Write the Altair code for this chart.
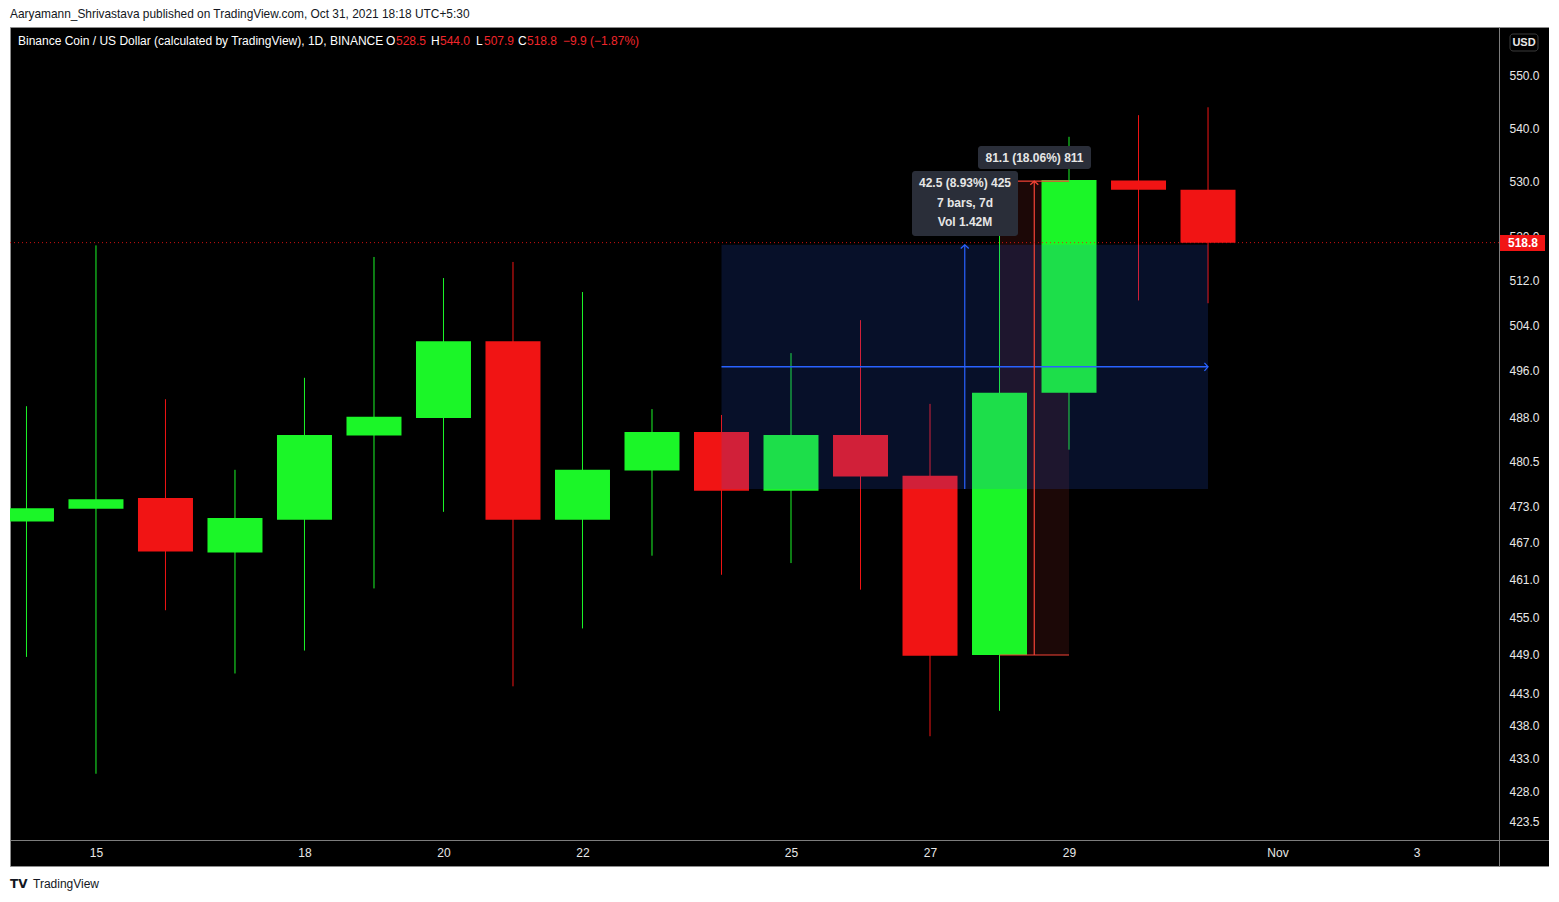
import altair as alt
import pandas as pd

# ---------------- data ----------------
days = [14, 15, 16, 17, 18, 19, 20, 21, 22, 23, 24, 25, 26, 27, 28, 29, 30, 31]
opens = [470.5, 472.6, 474.4, 465.4, 470.8, 484.9, 487.9, 501.2, 470.8, 479.0,
         485.5, 475.6, 485.0, 478.1, 449.0, 492.2, 530.2, 528.5]
highs = [489.9, 518.3, 491.1, 479.1, 494.8, 516.2, 512.4, 515.3, 509.9, 489.4,
         488.4, 499.1, 504.9, 490.3, 521.5, 538.4, 542.5, 544.0]
lows = [448.7, 430.7, 456.1, 446.1, 449.7, 459.6, 472.1, 444.1, 453.2, 464.9,
        461.8, 463.7, 459.4, 436.4, 440.3, 482.5, 508.4, 507.9]
closes = [472.7, 474.2, 465.6, 471.1, 485.0, 488.1, 501.2, 470.8, 479.1, 485.5,
          475.6, 485.0, 478.0, 448.9, 492.2, 530.3, 528.5, 518.8]

x_tick_days = [15, 18, 20, 22, 25, 27, 29, 32, 34]
x_tick_labels = ["15", "18", "20", "22", "25", "27", "29", "Nov", "3"]
y_tick_values = [550.0, 540.0, 530.0, 520.0, 512.0, 504.0, 496.0, 488.0, 480.5,
                 473.0, 467.0, 461.0, 455.0, 449.0, 443.0, 438.0, 433.0, 428.0, 423.5]

# date/price range measurement (blue)
blue_days = [24, 31]
blue_prices = [475.9, 518.4]
blue_mid_price = [496.7]
blue_mid_day = [27.5]
# price range measurement (red)
red_days = [28, 29]
red_prices = [449.0, 530.1]
red_mid_day = [28.5]

last_price = [518.8]

GREEN = "#1bf628"
RED = "#f11414"
BLUE = "#2962ff"
MRED = "#f44336"
FONT = "Liberation Sans"

# ---------------- frames ----------------
candles = pd.DataFrame({"day": days, "open": opens, "high": highs, "low": lows, "close": closes})
candles["dir"] = ["up" if c >= o else "down" for o, c in zip(opens, closes)]

blue_rect_df = pd.DataFrame({"x": [blue_days[0]], "x2": [blue_days[1]],
                             "y": [blue_prices[0]], "y2": [blue_prices[1]]})
blue_h_df = pd.DataFrame({"x": [blue_days[0]], "x2": [blue_days[1]], "y": blue_mid_price})
blue_v_df = pd.DataFrame({"x": blue_mid_day, "y": [blue_prices[0]], "y2": [blue_prices[1]]})
red_rect_df = pd.DataFrame({"x": [red_days[0]], "x2": [red_days[1]],
                            "y": [red_prices[0]], "y2": [red_prices[1]]})
red_h_df = pd.DataFrame({"x": [red_days[0]] * 2, "x2": [red_days[1]] * 2, "y": red_prices})
red_v_df = pd.DataFrame({"x": red_mid_day, "y": [red_prices[0]], "y2": [red_prices[1]]})
blue_up_df = pd.DataFrame({"x": blue_mid_day, "y": [blue_prices[1]]})
red_up_df = pd.DataFrame({"x": red_mid_day, "y": [red_prices[1]]})
arrow_right_df = pd.DataFrame({"x": [blue_days[1]], "y": blue_mid_price})
last_df = pd.DataFrame({"y": last_price, "t": [f"{last_price[0]:.1f}"]})

# ---------------- scales / axes ----------------
xscale = alt.Scale(domain=[13.763, 35.906], nice=False, zero=False, padding=0)
yscale = alt.Scale(type="log", domain=[417.0, 559.52], nice=False, zero=False, padding=0)

label_expr = ""
for d, l in zip(x_tick_days, x_tick_labels):
    label_expr += f"datum.value == {d} ? '{l}' : "
label_expr += "''"

xaxis = alt.Axis(values=x_tick_days, labelExpr=label_expr, orient="bottom", offset=-26,
                 domainColor="#7d7d7d", domainWidth=1, ticks=False, tickSize=0,
                 labelColor="#e8e8e8", labelFontSize=12, labelFont=FONT, labelPadding=7,
                 grid=False, title=None, labelFlush=False, labelOverlap=False)
yaxis = alt.Axis(values=y_tick_values, format=".1f", orient="right", offset=-50,
                 domainColor="#7d7d7d", domainWidth=1, ticks=False, tickSize=0,
                 labelColor="#e8e8e8", labelFontSize=12, labelFont=FONT, labelPadding=10,
                 labelAlign="left", grid=False, title=None, labelFlush=False,
                 labelOverlap=False)

X = lambda f: alt.X(f, scale=xscale, axis=xaxis)
Y = lambda f: alt.Y(f, scale=yscale, axis=yaxis)

# ---------------- layers ----------------
red_rect = alt.Chart(red_rect_df).mark_rect(color="#1c0807").encode(
    x=X("x:Q"), x2="x2:Q", y=Y("y:Q"), y2="y2:Q")

color_enc = alt.Color("dir:N", scale=alt.Scale(domain=["up", "down"], range=[GREEN, RED]),
                      legend=None)

wicks = alt.Chart(candles).mark_rule(strokeWidth=1, clip=True).encode(
    x=X("day:Q"), y=Y("low:Q"), y2="high:Q", color=color_enc)

bodies = alt.Chart(candles).mark_bar(size=55, clip=True).encode(
    x=X("day:Q"), y=Y("open:Q"), y2="close:Q", color=color_enc)

blue_rect = alt.Chart(blue_rect_df).mark_rect(color=BLUE, opacity=0.16).encode(
    x=X("x:Q"), x2="x2:Q", y=Y("y:Q"), y2="y2:Q")

blue_h = alt.Chart(blue_h_df).mark_rule(color=BLUE, strokeWidth=1.5).encode(
    x=X("x:Q"), x2="x2:Q", y=Y("y:Q"))
blue_v = alt.Chart(blue_v_df).mark_rule(color=BLUE, strokeWidth=1.2).encode(
    x=X("x:Q"), y=Y("y:Q"), y2="y2:Q")

red_h = alt.Chart(red_h_df).mark_rule(color=MRED, strokeWidth=1.2).encode(
    x=X("x:Q"), x2="x2:Q", y=Y("y:Q"))
red_v = alt.Chart(red_v_df).mark_rule(color=MRED, strokeWidth=1.2).encode(
    x=X("x:Q"), y=Y("y:Q"), y2="y2:Q")

UP_SHAPE = "M-1,0.9L0,0L1,0.9"
blue_up = alt.Chart(blue_up_df).mark_point(
    shape=UP_SHAPE, size=64, filled=False, strokeWidth=1.3, opacity=1, color=BLUE).encode(
    x=X("x:Q"), y=Y("y:Q"))
red_up = alt.Chart(red_up_df).mark_point(
    shape=UP_SHAPE, size=64, filled=False, strokeWidth=1.3, opacity=1, color=MRED).encode(
    x=X("x:Q"), y=Y("y:Q"))
arrow_right = alt.Chart(arrow_right_df).mark_point(
    shape="M-0.9,-1L0,0L-0.9,1", size=64, filled=False, strokeWidth=1.3, opacity=1,
    color=BLUE).encode(x=X("x:Q"), y=Y("y:Q"))

last_rule = alt.Chart(last_df).mark_rule(color=RED, strokeWidth=1, strokeDash=[1, 3],
                                         opacity=0.85).encode(
    y=Y("y:Q"), x=alt.value(0), x2=alt.value(1489))

last_box = alt.Chart(last_df).mark_rect(color=RED).encode(
    x=alt.value(1490), x2=alt.value(1535), y=alt.value(208), y2=alt.value(224))
last_text = alt.Chart(last_df).mark_text(
    color="white", font=FONT, fontSize=12, fontWeight="bold", align="center",
    baseline="middle").encode(x=alt.value(1513), y=Y("y:Q"), text="t:N")

# measurement label boxes
BOX = "#2a2e39"
box1 = alt.Chart(last_df).mark_rect(color=BOX, cornerRadius=3).encode(
    x=alt.value(968), x2=alt.value(1081), y=alt.value(119), y2=alt.value(142))
box1_text = alt.Chart(last_df).mark_text(
    text="81.1 (18.06%) 811", color="#e6e6e6", font=FONT, fontSize=12, fontWeight="bold",
    align="center", baseline="middle").encode(x=alt.value(1024.5), y=alt.value(130.5))
box2 = alt.Chart(last_df).mark_rect(color=BOX, cornerRadius=3).encode(
    x=alt.value(902), x2=alt.value(1008), y=alt.value(144), y2=alt.value(209))
box2_lines = [("42.5 (8.93%) 425", 156), ("7 bars, 7d", 176), ("Vol 1.42M", 195)]
box2_texts = [
    alt.Chart(last_df).mark_text(
        text=t, color="#e6e6e6", font=FONT, fontSize=12, fontWeight="bold",
        align="center", baseline="middle").encode(x=alt.value(955), y=alt.value(yy))
    for t, yy in box2_lines
]

# USD badge
usd_box = alt.Chart(last_df).mark_rect(fill="#000000", stroke="#3a3a3a", strokeWidth=1,
                                       cornerRadius=3).encode(
    x=alt.value(1500), x2=alt.value(1528), y=alt.value(7), y2=alt.value(24))
usd_text = alt.Chart(last_df).mark_text(
    text="USD", color="#e8e8e8", font=FONT, fontSize=11, fontWeight="bold",
    align="center", baseline="middle").encode(x=alt.value(1514), y=alt.value(15.5))

# header legend
WHITE = "#ffffff"
HRED = "#f0262b"
header_parts = [
    ("Binance Coin / US Dollar (calculated by TradingView), 1D, BINANCE", 8, WHITE),
    ("O", 376, WHITE), ("528.5", 386, HRED),
    ("H", 421, WHITE), ("544.0", 430, HRED),
    ("L", 466, WHITE), ("507.9", 474, HRED),
    ("C", 508, WHITE), ("518.8", 517, HRED),
    ("\u22129.9 (\u22121.87%)", 553, HRED),
]
header_layers = [
    alt.Chart(last_df).mark_text(
        text=t, color=c, font=FONT, fontSize=12, align="left", baseline="middle").encode(
        x=alt.value(xx), y=alt.value(14))
    for t, xx, c in header_parts
]

top_note = alt.Chart(last_df).mark_text(
    text="Aaryamann_Shrivastava published on TradingView.com, Oct 31, 2021 18:18 UTC+5:30",
    color="#131722", font=FONT, fontSize=11.9, align="left", baseline="middle").encode(
    x=alt.value(0), y=alt.value(-13))
logo = alt.Chart(last_df).mark_text(
    text="TV", color="#131722", font="DejaVu Sans", fontSize=12, fontWeight="bold",
    align="left", baseline="middle").encode(x=alt.value(0), y=alt.value(857))
brand = alt.Chart(last_df).mark_text(
    text="TradingView", color="#131722", font=FONT, fontSize=12, align="left",
    baseline="middle").encode(x=alt.value(23), y=alt.value(857))

chart = alt.layer(
    red_rect, wicks, bodies, blue_rect, blue_h, blue_v, red_h, red_v,
    blue_up, red_up, arrow_right, last_rule, last_box, last_text,
    box1, box1_text, box2, *box2_texts, usd_box, usd_text,
    *header_layers, top_note, logo, brand,
).properties(
    width=1539, height=839,
    padding={"left": 2, "top": 19, "right": 0, "bottom": 28},
    autosize="none", background="white",
).configure_view(fill="#000000", stroke="#8c8c8c", strokeWidth=1)

chart.save("out.html", embed_options={"renderer": "svg", "actions": False})
